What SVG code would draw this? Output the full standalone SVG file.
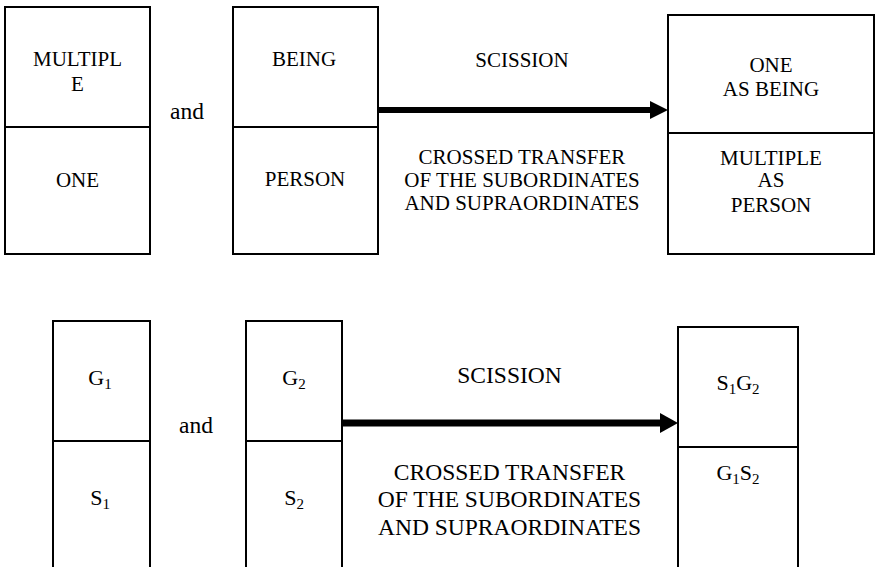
<svg xmlns="http://www.w3.org/2000/svg" width="875" height="567" viewBox="0 0 875 567" font-family="'Liberation Serif', 'DejaVu Serif', serif">
<style>
.box{fill:#fff;stroke:#000;stroke-width:2}
.div{stroke:#000;stroke-width:2}
text{font-family:'Liberation Serif','DejaVu Serif',serif;fill:#000;text-anchor:middle}
.t{font-size:21px}
.b{font-size:22px}
.l{font-size:23.5px}
.sub{font-size:15px}
.conn{stroke:#000;fill:none}
</style>
<rect width="875" height="567" fill="#fff"/>
<g id="connectors">
<line class="conn" x1="378" y1="110" x2="652" y2="110" stroke-width="6"/>
<polygon points="650,101 668,110 650,119" fill="#000"/>
<line class="conn" x1="342" y1="423" x2="662" y2="423" stroke-width="7"/>
<polygon points="660,413 678,423 660,433" fill="#000"/>
</g>
<g id="multiple-one">
<rect class="box" x="5" y="7" width="145" height="247"/>
<line class="div" x1="5" y1="127" x2="150" y2="127"/>
<text class="t" x="77.5" y="66">MULTIPL</text>
<text class="t" x="77.5" y="91">E</text>
<text class="t" x="77.5" y="187">ONE</text>
</g>
<g id="and-top"><text class="l" x="187" y="119">and</text></g>
<g id="being-person">
<rect class="box" x="233" y="7" width="145" height="247"/>
<line class="div" x1="233" y1="127" x2="378" y2="127"/>
<text class="t" x="304" y="66">BEING</text>
<text class="t" x="305" y="186">PERSON</text>
</g>
<g id="label-top">
<text class="t" x="522" y="67">SCISSION</text>
<text class="t" x="522" y="164">CROSSED TRANSFER</text>
<text class="t" x="522" y="187">OF THE SUBORDINATES</text>
<text class="t" x="522" y="210">AND SUPRAORDINATES</text>
</g>
<g id="result-top">
<rect class="box" x="668" y="15" width="206" height="239"/>
<line class="div" x1="668" y1="133" x2="874" y2="133"/>
<text class="t" x="771" y="72">ONE</text>
<text class="t" x="771" y="96">AS BEING</text>
<text class="t" x="771" y="165">MULTIPLE</text>
<text class="t" x="771" y="187">AS</text>
<text class="t" x="771" y="212">PERSON</text>
</g>
<g id="g1-s1">
<rect class="box" x="53" y="321" width="97" height="250"/>
<line class="div" x1="53" y1="441" x2="150" y2="441"/>
<text class="b" x="100" y="385">G<tspan class="sub" dy="4">1</tspan></text>
<text class="b" x="100" y="505">S<tspan class="sub" dy="4">1</tspan></text>
</g>
<g id="and-bottom"><text class="l" x="196" y="433">and</text></g>
<g id="g2-s2">
<rect class="box" x="246" y="321" width="96" height="250"/>
<line class="div" x1="246" y1="441" x2="342" y2="441"/>
<text class="b" x="294" y="385">G<tspan class="sub" dy="4">2</tspan></text>
<text class="b" x="294" y="505">S<tspan class="sub" dy="4">2</tspan></text>
</g>
<g id="label-bottom">
<text class="l" x="509.5" y="383">SCISSION</text>
<text class="l" x="509.5" y="480">CROSSED TRANSFER</text>
<text class="l" x="509.5" y="507">OF THE SUBORDINATES</text>
<text class="l" x="509.5" y="535">AND SUPRAORDINATES</text>
</g>
<g id="result-bottom">
<rect class="box" x="678" y="327" width="120" height="250"/>
<line class="div" x1="678" y1="447" x2="798" y2="447"/>
<text class="b" x="738" y="390">S<tspan class="sub" dy="4">1</tspan><tspan dy="-4">G</tspan><tspan class="sub" dy="4">2</tspan></text>
<text class="b" x="738" y="480">G<tspan class="sub" dy="4">1</tspan><tspan dy="-4">S</tspan><tspan class="sub" dy="4">2</tspan></text>
</g>
</svg>
